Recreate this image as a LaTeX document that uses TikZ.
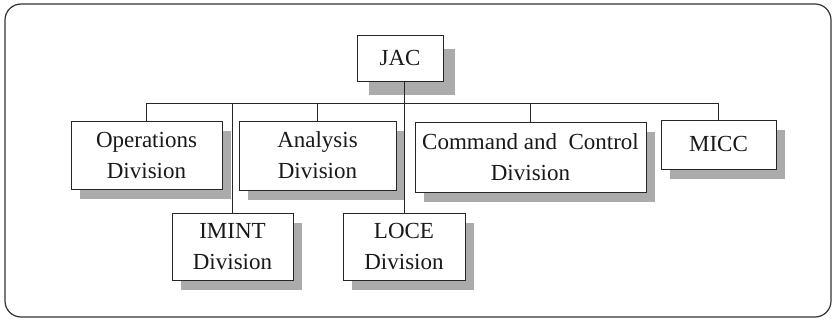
\documentclass[tikz,border=0pt]{standalone}
\usepackage{fontspec}
\setmainfont{Liberation Serif}
\usetikzlibrary{shadows}
\begin{document}
\begin{tikzpicture}[x=1pt,y=-1pt,
  unit/.style={draw=black!85, line width=0.9pt, fill=white, align=center,
    inner sep=0pt, text=black!90, font=\fontsize{23}{31}\selectfont},
  shade/.style={drop shadow={shadow xshift=9pt, shadow yshift=-10pt,
    fill=black!33, opacity=1}},
  bigshade/.style={drop shadow={shadow xshift=12pt, shadow yshift=-14pt,
    fill=black!33, opacity=1}},
  link/.style={draw=black!85, line width=0.8pt}]
\useasboundingbox (0,0) rectangle (835,320);

% outer frame
\draw[black!80, line width=1.2pt, rounded corners=16pt] (5,4) rectangle (831,317);

% units
\node[unit, bigshade, minimum width=86pt, minimum height=46pt] (jac) at (400,58) {JAC};
\node[unit, shade, minimum width=151pt, minimum height=68pt] (ops) at (146.5,155) {Operations\\Division};
\node[unit, shade, minimum width=157pt, minimum height=69pt] (ana) at (317.5,155.5) {Analysis\\Division};
\node[unit, shade, minimum width=231pt, minimum height=70pt] (cc) at (530.5,157) {Command and\ \ Control\\Division};
\node[unit, shade, minimum width=115pt, minimum height=49pt] (micc) at (718.5,144.5) {MICC};
\node[unit, shade, minimum width=121pt, minimum height=67pt] (imint) at (232.5,246.5) {IMINT\\Division};
\node[unit, shade, minimum width=122pt, minimum height=67pt] (loce) at (404,246.5) {LOCE\\Division};

% reporting lines
\coordinate (bus) at (0,103);
\draw[link] (ops.north) -- (ops.north |- bus) -- (micc.north |- bus) -- (micc.north);
\draw[link] (ana.north) -- (ana.north |- bus);
\draw[link] (cc.north) -- (cc.north |- bus);
\draw[link] (imint.north) -- (imint.north |- bus);
\draw[link] (loce.north) -- (loce.north |- jac.south);
\end{tikzpicture}
\end{document}
